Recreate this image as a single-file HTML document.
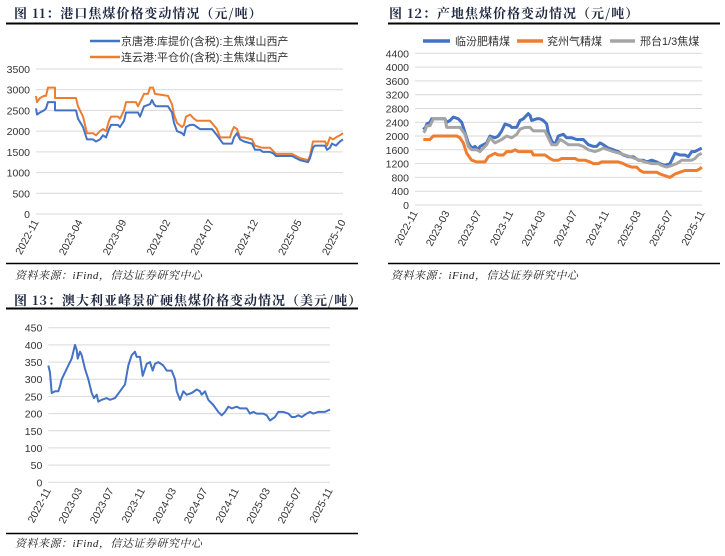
<!DOCTYPE html>
<html><head><meta charset="utf-8"><style>
body{margin:0;background:#fff;}
svg text{font-family:"Liberation Sans","Noto Sans CJK SC",sans-serif;}
.t{font-family:"Noto Serif CJK SC","Liberation Serif",serif;font-weight:bold;font-size:13px;fill:#1d2640;letter-spacing:1px;}
.s{font-family:"Liberation Serif","Noto Serif CJK SC",serif;font-style:italic;font-size:11px;fill:#222;letter-spacing:0.5px;}
.ax{font-size:10.5px;fill:#333;}
.lg{font-size:11px;fill:#333;}
</style></head><body>
<svg id="g" width="725" height="551" xmlns="http://www.w3.org/2000/svg">
<text class="t" x="14" y="18">图 11：港口焦煤价格变动情况（元/吨）</text>
<line x1="6" y1="23.5" x2="358" y2="23.5" stroke="#000" stroke-width="2"/>
<line x1="6" y1="263.5" x2="358" y2="263.5" stroke="#000" stroke-width="1.5"/>
<text class="s" x="15" y="279">资料来源：iFind，信达证券研究中心</text>
<text class="t" x="389" y="18">图 12：产地焦煤价格变动情况（元/吨）</text>
<line x1="388" y1="23.5" x2="720" y2="23.5" stroke="#000" stroke-width="2"/>
<line x1="388" y1="263.5" x2="720" y2="263.5" stroke="#000" stroke-width="1.5"/>
<text class="s" x="391" y="279">资料来源：iFind，信达证券研究中心</text>
<text class="t" x="14" y="305">图 13：澳大利亚峰景矿硬焦煤价格变动情况（美元/吨）</text>
<line x1="6" y1="308.5" x2="358" y2="308.5" stroke="#000" stroke-width="2"/>
<line x1="6" y1="533.5" x2="358" y2="533.5" stroke="#000" stroke-width="1.5"/>
<text class="s" x="15" y="547">资料来源：iFind，信达证券研究中心</text>
</svg>
<script>
var S=document.getElementById('g'),NS='http://www.w3.org/2000/svg';
function el(n,a,t){var e=document.createElementNS(NS,n);for(var k in a)e.setAttribute(k,a[k]);if(t!=null)e.textContent=t;S.appendChild(e);return e;}
function chart(o){
 var x0=o.x0,x1=o.x1,y0=o.y0,y1=o.y1;
 for(var i=0;i<=o.n;i++){var v=o.step*i,y=y1-(y1-y0)*i/o.n;
  el('line',{x1:x0,x2:x1,y1:y.toFixed(1),y2:y.toFixed(1),stroke:'#d9d9d9','stroke-width':1});
  el('text',{x:x0-6,y:(y+4).toFixed(1),'text-anchor':'end','class':'ax'},String(v));}
 var L=o.labels;for(var i=0;i<L.length;i++){var x=x0+(x1-x0)*i/(L.length-1);
  el('text',{x:0,y:0,'text-anchor':'end','class':'ax',transform:'translate('+(x+3)+','+(y1+8)+') rotate(-62)'},L[i]);}
 o.series.forEach(function(s){var d='';s.d.forEach(function(p,j){var x=o.zx(p[0]),y=y1-(y1-y0)*p[1]/(o.step*o.n);d+=(j?'L':'M')+x.toFixed(1)+','+y.toFixed(1);});
  el('path',{d:d,fill:'none',stroke:s.c,'stroke-width':s.w||2,'stroke-linejoin':'round'});});
}
var B='#4472c4',O='#ed7d31',G='#a5a5a5';
chart({x0:36,x1:343,y0:69,y1:214,n:7,step:500,labels:['2022-11','2023-04','2023-09','2024-02','2024-07','2024-12','2025-05','2025-10'],zx:function(x){return x},
series:[{c:O,d:[[36,2850],[37,2700],[40,2800],[44,2850],[46,2850],[48,3050],[55,3050],[55,2800],[76,2800],[78,2600],[83,2350],[87,1950],[93,1950],[96,1900],[100,2000],[103,2050],[106,2000],[109,2250],[111,2350],[118,2350],[120,2300],[124,2500],[126,2700],[136,2700],[138,2600],[140,2700],[144,2900],[148,2900],[150,3050],[153,3050],[155,2900],[168,2850],[172,2650],[174,2400],[177,2200],[182,2100],[184,2150],[186,2350],[190,2400],[194,2300],[197,2250],[210,2250],[217,2050],[220,1850],[230,1850],[232,2000],[234,2100],[237,2050],[240,1850],[244,1850],[252,1800],[255,1650],[262,1600],[270,1600],[274,1500],[276,1450],[292,1450],[296,1400],[300,1350],[308,1300],[310,1400],[313,1750],[325,1750],[327,1650],[330,1850],[333,1800],[336,1850],[340,1900],[343,1950]]},
{c:B,d:[[36,2550],[37,2400],[40,2450],[44,2500],[46,2550],[48,2700],[55,2700],[55,2500],[76,2500],[78,2300],[83,2100],[87,1800],[93,1800],[96,1750],[100,1800],[103,1900],[106,1850],[109,2050],[111,2150],[118,2150],[120,2100],[124,2250],[126,2450],[138,2450],[140,2350],[144,2600],[150,2650],[152,2750],[154,2650],[156,2600],[168,2600],[172,2450],[174,2200],[177,2000],[182,1950],[184,1900],[186,2100],[190,2150],[194,2150],[197,2100],[200,2050],[212,2050],[217,1900],[220,1800],[223,1700],[232,1700],[234,1850],[237,1950],[240,1800],[244,1750],[252,1700],[255,1550],[260,1550],[263,1500],[270,1500],[274,1450],[276,1400],[292,1400],[296,1350],[300,1300],[308,1250],[310,1350],[313,1600],[315,1650],[325,1650],[327,1550],[330,1600],[332,1700],[336,1650],[340,1750],[343,1800]]}]});
el('line',{x1:90,x2:120,y1:41,y2:41,stroke:B,'stroke-width':2.5});
el('text',{x:121,y:45,'class':'lg'},'京唐港:库提价(含税):主焦煤山西产');
el('line',{x1:90,x2:120,y1:57,y2:57,stroke:O,'stroke-width':2.5});
el('text',{x:121,y:61,'class':'lg'},'连云港:平仓价(含税):主焦煤山西产');
var z2=function(x){return 365+x/3};
chart({x0:415,x1:702,y0:53.3,y1:205,n:11,step:400,labels:['2022-11','2023-03','2023-07','2023-11','2024-03','2024-07','2024-11','2025-03','2025-07','2025-11'],zx:z2,
series:[{c:O,w:3,d:[[175,1900],[195,1900],[205,2000],[275,2000],[285,1950],[295,1800],[305,1500],[320,1300],[335,1250],[360,1250],[370,1400],[380,1450],[390,1500],[400,1450],[415,1450],[425,1550],[440,1550],[450,1600],[460,1550],[500,1550],[505,1450],[540,1450],[555,1350],[565,1300],[580,1300],[590,1350],[630,1350],[640,1300],[660,1300],[675,1250],[685,1200],[700,1200],[710,1250],[760,1250],[775,1200],[785,1150],[800,1100],[815,1100],[825,1000],[835,950],[875,950],[885,900],[900,850],[915,800],[930,900],[945,950],[960,1000],[995,1000],[1005,1050],[1010,1100]]},
{c:B,w:3,d:[[175,2250],[180,2200],[185,2350],[195,2400],[200,2500],[240,2500],[245,2400],[255,2450],[265,2550],[280,2500],[290,2400],[300,2100],[310,1800],[320,1650],[330,1700],[340,1600],[345,1700],[355,1750],[365,1800],[375,2000],[390,1950],[400,2000],[410,2150],[420,2350],[435,2300],[440,2250],[455,2250],[465,2450],[475,2500],[490,2650],[495,2600],[500,2450],[515,2500],[525,2500],[535,2450],[545,2350],[550,2100],[560,1850],[570,1750],[580,2000],[595,2050],[605,1950],[620,1950],[635,1900],[655,1900],[670,1750],[685,1700],[695,1700],[705,1800],[715,1750],[730,1650],[745,1600],[760,1550],[775,1450],[790,1400],[805,1400],[820,1300],[835,1300],[845,1250],[860,1300],[875,1250],[885,1200],[900,1150],[915,1200],[930,1500],[945,1450],[960,1450],[970,1400],[980,1550],[990,1550],[1000,1600],[1010,1650]]},
{c:G,w:3,d:[[175,2100],[180,2150],[185,2300],[195,2300],[205,2500],[240,2500],[245,2250],[285,2250],[300,2050],[310,1700],[320,1600],[335,1600],[345,1550],[355,1650],[365,1750],[375,1950],[390,1800],[410,1900],[425,2000],[440,1950],[455,2050],[465,2200],[480,2250],[495,2250],[505,2150],[540,2150],[550,1950],[560,1750],[575,1750],[585,1900],[595,1850],[610,1750],[640,1750],[655,1700],[670,1600],[690,1550],[705,1600],[715,1650],[730,1600],[745,1550],[765,1500],[780,1450],[795,1400],[810,1350],[825,1300],[840,1250],[860,1200],[880,1200],[890,1150],[905,1100],[920,1150],[935,1200],[950,1300],[980,1300],[990,1350],[1000,1450],[1010,1500]]}]});
el('line',{x1:423,x2:450,y1:41,y2:41,stroke:B,'stroke-width':3.5});
el('text',{x:455,y:45,'class':'lg'},'临汾肥精煤');
el('line',{x1:517,x2:543,y1:41,y2:41,stroke:O,'stroke-width':3.5});
el('text',{x:547,y:45,'class':'lg'},'兖州气精煤');
el('line',{x1:610,x2:635,y1:41,y2:41,stroke:G,'stroke-width':3.5});
el('text',{x:640,y:45,'class':'lg'},'邢台1/3焦煤');
chart({x0:48.3,x1:330,y0:327.7,y1:482.3,n:9,step:50,labels:['2022-11','2023-03','2023-07','2023-11','2024-03','2024-07','2024-11','2025-03','2025-07','2025-11'],zx:function(x){return x/3},
series:[{c:B,w:2,d:[[145,340],[150,320],[155,260],[165,265],[175,265],[180,280],[185,300],[195,320],[205,340],[215,360],[225,400],[230,385],[233,360],[240,380],[245,370],[255,330],[265,300],[275,260],[282,245],[290,255],[295,235],[305,240],[320,245],[330,240],[345,245],[360,265],[375,285],[385,340],[395,370],[405,380],[410,365],[420,365],[428,310],[435,330],[440,345],[450,350],[458,325],[465,345],[475,350],[490,340],[500,325],[515,325],[525,300],[530,265],[540,240],[550,265],[560,255],[575,260],[590,270],[600,265],[605,255],[615,265],[625,240],[640,225],[655,205],[665,195],[675,205],[685,220],[695,215],[710,220],[720,215],[740,215],[750,200],[760,205],[770,200],[790,200],[800,195],[810,180],[825,190],[835,205],[850,205],[865,200],[875,190],[885,190],[895,195],[905,190],[920,200],[930,205],[940,200],[955,205],[975,205],[990,212]]}]});
</script>
</body></html>
